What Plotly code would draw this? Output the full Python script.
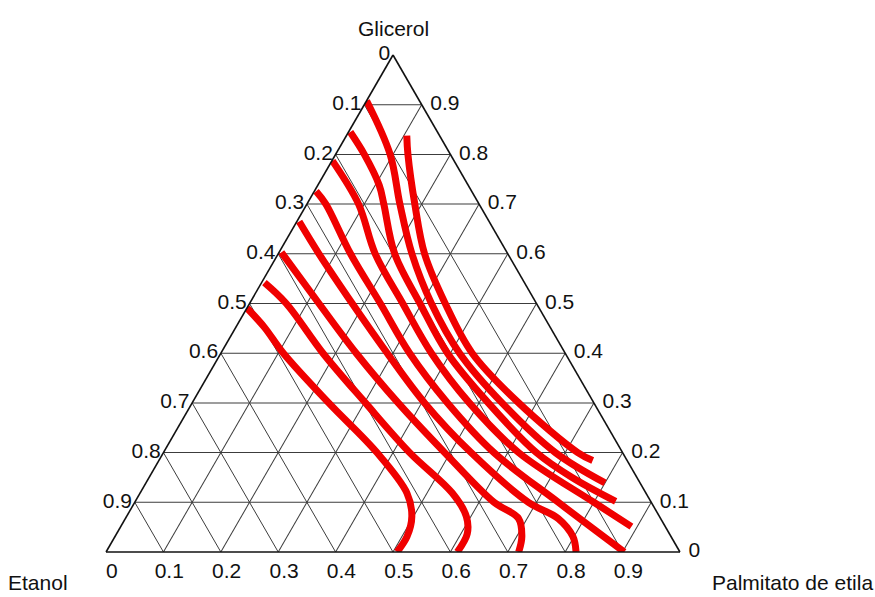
import plotly.graph_objects as go

# Ternary components: Glicerol (top vertex), Etanol (bottom-left), Palmitato de etila (bottom-right)
# Each curve given by Glicerol and Palmitato de etila mass fractions (Etanol = 1 - both)
curve1_glicerol = [0.838, 0.80, 0.70, 0.60, 0.50, 0.40, 0.30, 0.20, 0.184]
curve1_palmitato = [0.105, 0.126, 0.188, 0.255, 0.341, 0.438, 0.569, 0.722, 0.756]

curve2_glicerol = [0.908, 0.80, 0.70, 0.60, 0.50, 0.40, 0.30, 0.20, 0.139]
curve2_palmitato = [0.000, 0.095, 0.162, 0.233, 0.317, 0.416, 0.540, 0.683, 0.800]

curve3_glicerol = [0.845, 0.80, 0.738, 0.70, 0.60, 0.50, 0.40, 0.30, 0.20, 0.149, 0.102]
curve3_palmitato = [0.003, 0.050, 0.107, 0.134, 0.203, 0.297, 0.395, 0.516, 0.650, 0.739, 0.837]

curve4_glicerol = [0.787, 0.70, 0.60, 0.50, 0.40, 0.30, 0.20, 0.10, 0.051]
curve4_palmitato = [0.001, 0.090, 0.169, 0.267, 0.367, 0.483, 0.619, 0.800, 0.890]

curve5_glicerol = [0.726, 0.70, 0.60, 0.50, 0.40, 0.30, 0.20, 0.10, 0.0]
curve5_palmitato = [0.003, 0.033, 0.126, 0.228, 0.329, 0.445, 0.576, 0.738, 0.903]

curve6_glicerol = [0.665, 0.60, 0.50, 0.40, 0.30, 0.20, 0.10, 0.0675, 0.031, 0.0]
curve6_palmitato = [0.004, 0.071, 0.179, 0.290, 0.405, 0.536, 0.686, 0.754, 0.798, 0.819]

curve7_glicerol = [0.603, 0.50, 0.40, 0.30, 0.20, 0.10, 0.0675, 0.031, 0.0]
curve7_palmitato = [0.004, 0.121, 0.236, 0.359, 0.490, 0.626, 0.685, 0.709, 0.719]

curve8_glicerol = [0.542, 0.50, 0.40, 0.30, 0.20, 0.1186, 0.0716, 0.0368, 0.0]
curve8_palmitato = [0.005, 0.064, 0.178, 0.302, 0.429, 0.544, 0.592, 0.611, 0.612]

curve9_glicerol = [0.491, 0.452, 0.40, 0.30, 0.20, 0.1186, 0.0716, 0.0307, 0.0]
curve9_palmitato = [0.000, 0.050, 0.109, 0.238, 0.372, 0.465, 0.497, 0.509, 0.507]

curves = [
    (curve1_glicerol, curve1_palmitato),
    (curve2_glicerol, curve2_palmitato),
    (curve3_glicerol, curve3_palmitato),
    (curve4_glicerol, curve4_palmitato),
    (curve5_glicerol, curve5_palmitato),
    (curve6_glicerol, curve6_palmitato),
    (curve7_glicerol, curve7_palmitato),
    (curve8_glicerol, curve8_palmitato),
    (curve9_glicerol, curve9_palmitato),
]

tick_values = [0.1, 0.2, 0.3, 0.4, 0.5, 0.6, 0.7, 0.8, 0.9, 1.0]
tick_labels = ["0.9", "0.8", "0.7", "0.6", "0.5", "0.4", "0.3", "0.2", "0.1", "0"]
NBSP = "\u00a0"
bottom_tick_labels = [NBSP * 2 + t for t in tick_labels]
right_tick_labels = [NBSP + t for t in tick_labels]

FONT = "Liberation Sans, Arial, sans-serif"
FSIZE = 21
RED = "#f00000"

fig = go.Figure()
for g, p in curves:
    e = [round(1 - gi - pi, 4) for gi, pi in zip(g, p)]
    fig.add_trace(go.Scatterternary(
        a=g, b=e, c=p, mode="lines",
        line=dict(color=RED, width=7, shape="spline", smoothing=1.0),
        showlegend=False, hoverinfo="skip",
    ))

axis_common = dict(
    tickmode="array", tickvals=tick_values, ticktext=tick_labels,
    ticks="", ticklen=0, showgrid=True, gridcolor="#3c3c3c", gridwidth=1,
    linecolor="#111111", linewidth=1.6, showline=True,
    tickfont=dict(family=FONT, size=FSIZE, color="#111111"),
    title=dict(text=""), min=0,
)
baxis = dict(axis_common, ticktext=bottom_tick_labels)
caxis = dict(axis_common, ticktext=right_tick_labels)

fig.update_layout(
    width=875, height=597,
    margin=dict(l=106, r=195, t=55, b=45),
    paper_bgcolor="white", plot_bgcolor="white",
    ternary=dict(
        sum=1, bgcolor="white",
        aaxis=axis_common, baxis=baxis, caxis=caxis,
    ),
    annotations=[
        dict(text="Glicerol", x=0.5, y=1.0, xref="paper", yref="paper",
             xanchor="center", yanchor="middle", yshift=27, showarrow=False,
             font=dict(family=FONT, size=FSIZE, color="#111111")),
        dict(text="Etanol", x=0.0, y=0.0, xref="paper", yref="paper",
             xanchor="center", yanchor="middle", xshift=-68, yshift=-30, showarrow=False,
             font=dict(family=FONT, size=FSIZE, color="#111111")),
        dict(text="Palmitato de etila", x=1.0, y=0.0, xref="paper", yref="paper",
             xanchor="center", yanchor="middle", xshift=112, yshift=-30, showarrow=False,
             font=dict(family=FONT, size=FSIZE, color="#111111")),
    ],
)

fig.write_html("out.html")
